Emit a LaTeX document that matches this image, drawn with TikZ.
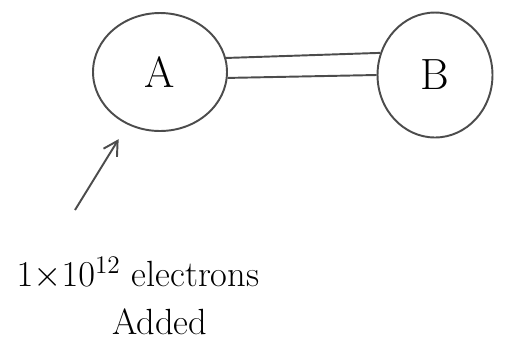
\documentclass[tikz,border=0pt]{standalone}
\usetikzlibrary{shapes.geometric, arrows.meta}

\tikzset{
  sketch/.style={draw=gray!60!black, line width=1.1pt},
  sphere/.style={sketch, ellipse, inner sep=0pt, font=\Huge},
}

\begin{document}
\begin{tikzpicture}[x=0.02cm, y=-0.02cm]
        \useasboundingbox (0,0) rectangle (527,343);

        % the two conducting spheres
        \node[sphere, minimum width=2.68cm, minimum height=2.36cm] (A) at (160,72) {A};
        \node[sphere, minimum width=2.3cm, minimum height=2.5cm] (B) at (435,75) {B};

        % connecting wire
        \draw[sketch] (A.12) -- (B.158);
        \draw[sketch] (A.-5) -- (B.180);

        % charge put on A
        \coordinate (tail) at (75,210);
        \node[font=\huge, align=center] (added) at (138,296) {$1{\times}10^{12}$ electrons\\[2pt] \hspace*{1.2em}Added};
        \draw[sketch, -{Straight Barb[length=8pt, width=9pt]}, shorten >=0.34cm] (tail) -- (A);
    \end{tikzpicture}
\end{document}
